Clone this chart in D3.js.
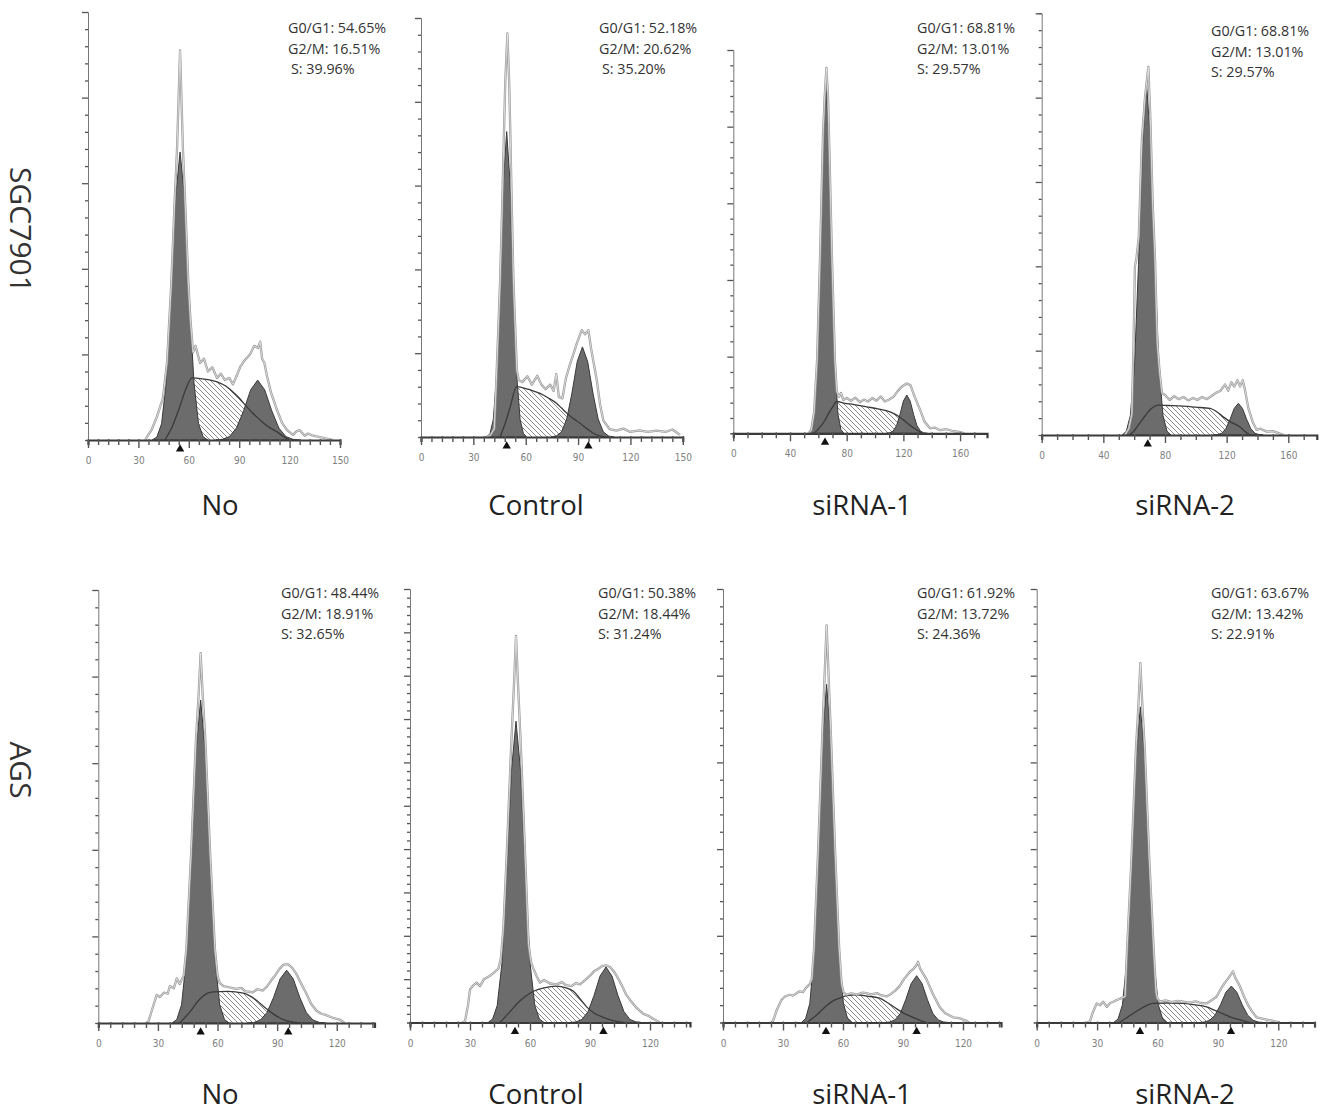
<!DOCTYPE html>
<html><head><meta charset="utf-8">
<script src="https://cdn.jsdelivr.net/npm/d3@7"></script>
<style>html,body{margin:0;padding:0;background:#fff;} svg{display:block;}</style>
</head><body>
<svg id="chart" width="1321" height="1114"></svg>
<script>
// ---------------- DATA ----------------
const rowLabels = ["SGC7901", "AGS"];
const panelNames = ["No", "Control", "siRNA-1", "siRNA-2", "No", "Control", "siRNA-1", "siRNA-2"];
const statsG0G1 = ["54.65%", "52.18%", "68.81%", "68.81%", "48.44%", "50.38%", "61.92%", "63.67%"];
const statsG2M  = ["16.51%", "20.62%", "13.01%", "13.01%", "18.91%", "18.44%", "13.72%", "13.42%"];
const statsS    = ["39.96%", "35.20%", "29.57%", "29.57%", "32.65%", "31.24%", "24.36%", "22.91%"];

// channel axis
const xMax = [150, 150, 179, 178.5, 139, 140, 139, 138];
const xTickLabels = [
  [0, 30, 60, 90, 120, 150], [0, 30, 60, 90, 120, 150],
  [0, 40, 80, 120, 160], [0, 40, 80, 120, 160],
  [0, 30, 60, 90, 120], [0, 30, 60, 90, 120], [0, 30, 60, 90, 120], [0, 30, 60, 90, 120]
];
const xMinorStep = [6, 6, 10, 10, 6, 6, 6, 6];
const yMinorStep = [4, 4, 4, 4, 4, 2, 4, 4];

// G0/G1 fitted peak (channel, % of axis height)
const g1Curves = [
  [[38.2,0],[41,0.7],[43.8,3.8],[46.5,13.3],[49.3,32.8],[52,56.2],[54.8,67.3],[57.6,56.2],[60.3,32.8],[63.1,13.3],[65.8,3.8],[68.6,0.7],[71.4,0]],
  [[37.6,0],[39.5,0.8],[41.4,4.1],[43.3,14.4],[45.3,35.5],[47.2,60.9],[49.1,72.9],[51,60.9],[52.9,35.5],[54.9,14.4],[56.8,4.1],[58.7,0.8],[60.6,0]],
  [[52.8,0],[54.9,1],[57,5.1],[59.1,18.1],[61.2,44.5],[63.3,76.3],[65.4,91.4],[67.5,76.3],[69.6,44.5],[71.7,18.1],[73.8,5.1],[75.9,1],[78,0]],
  [[52.3,0],[54.9,0.9],[57.5,4.6],[60.2,16.4],[62.8,40.4],[65.5,69.3],[68.1,83],[70.7,69.3],[73.4,40.4],[76,16.4],[78.7,4.6],[81.3,0.9],[83.9,0]],
  [[37.1,0],[39.5,0.8],[41.9,4.2],[44.3,14.8],[46.7,36.3],[49.1,62.3],[51.5,74.6],[53.9,62.3],[56.3,36.3],[58.7,14.8],[61.1,4.2],[63.5,0.8],[65.9,0]],
  [[39,0],[41.3,0.8],[43.6,3.9],[46,13.8],[48.3,33.8],[50.7,58],[53,69.5],[55.3,58],[57.7,33.8],[60,13.8],[62.4,3.9],[64.7,0.8],[67,0]],
  [[39.2,0],[41.3,0.9],[43.4,4.4],[45.5,15.4],[47.6,38],[49.7,65.1],[51.8,78],[53.9,65.1],[56,38],[58.1,15.4],[60.2,4.4],[62.3,0.9],[64.4,0]],
  [[38.2,0],[40.4,0.8],[42.6,4.1],[44.8,14.4],[47.1,35.5],[49.3,60.8],[51.5,72.8],[53.7,60.8],[55.9,35.5],[58.2,14.4],[60.4,4.1],[62.6,0.8],[64.8,0]]
];

// G2/M fitted peak
const g2Curves = [
  [[76,0],[80,0.15],[84.2,0.8],[88.4,2.8],[92.6,6.8],[96.8,11.7],[101,14],[105.2,11.7],[109.4,6.8],[113.6,2.8],[117.8,0.8],[122,0.15],[126,0]],
  [[74.5,0],[77.5,0.24],[80.5,1.2],[83.5,4.3],[86.5,10.5],[89.5,18],[92.5,21.5],[95.5,18],[98.5,10.5],[101.5,4.3],[104.5,1.2],[107.5,0.24],[110.5,0]],
  [[108,0],[110.4,0.1],[112.8,0.6],[115.2,2],[117.6,4.9],[120,8.4],[122.4,10],[124.8,8.4],[127.2,4.9],[129.6,2],[132,0.6],[134.4,0.1],[136.8,0]],
  [[111.4,0],[114.1,0.1],[116.8,0.4],[119.5,1.5],[122.2,3.7],[124.9,6.3],[127.6,7.5],[130.3,6.3],[133,3.7],[135.7,1.5],[138.4,0.4],[141.1,0.1],[143.8,0]],
  [[75,0],[78.3,0.13],[81.6,0.7],[84.9,2.4],[88.2,5.9],[91.5,10.2],[94.8,12.2],[98.1,10.2],[101.4,5.9],[104.7,2.4],[108,0.7],[111.3,0.13],[114.6,0]],
  [[80,0],[83,0.14],[86,0.7],[89,2.5],[92,6.2],[95,10.7],[98,12.8],[101,10.7],[104,6.2],[107,2.5],[110,0.7],[113,0.14],[116,0]],
  [[80.6,0],[83.3,0.12],[86,0.6],[88.7,2.1],[91.4,5.3],[94.1,9],[96.8,10.8],[99.5,9],[102.2,5.3],[104.9,2.1],[107.6,0.6],[110.3,0.12],[113,0]],
  [[80.5,0],[83.2,0.1],[85.9,0.5],[88.6,1.7],[91.3,4.1],[94,7],[96.7,8.4],[99.4,7],[102.1,4.1],[104.8,1.7],[107.5,0.5],[110.2,0.1],[112.9,0]]
];

// S-phase fitted curve
const sCurves = [
  [[45.8,0],[50,3],[54.8,8],[58.3,12],[61.9,14.5],[68,14.3],[76.8,13.6],[82,12.6],[86.3,11.2],[90,9.8],[93.5,8.2],[98,6.3],[102.4,4.7],[107,3.2],[112.5,1.9],[116,0.9],[120,0]],
  [[45.3,0],[48,3],[51,7],[54.8,12],[58,11.8],[63,11.2],[68.2,10.4],[73,9.3],[77.8,8],[80.5,6.9],[83.5,5.7],[87,4.5],[91.1,3.3],[95,2],[98.7,0.9],[105,0]],
  [[56.5,0],[59,0.7],[62,2],[65,3.6],[67,5],[70,6.8],[73,8.3],[78,7.9],[85,7.5],[94.1,6.9],[102,6.4],[110.6,5.6],[115,4.8],[120,3.5],[125,2],[129.4,0.9],[133,0]],
  [[57,0],[60,1],[63,2.5],[67,4.5],[71,6.2],[75.7,7.1],[82,7],[90,6.9],[100,6.6],[109.2,6.3],[114,5.4],[117.8,4.3],[123,3],[128.7,1.9],[132,0.8],[135,0]],
  [[41,0],[46,2.5],[51,5.5],[55,6.9],[57.9,7.2],[65,7.3],[73,6.9],[76.5,6.2],[79.7,5.2],[84,3.5],[88,2.1],[93,0.8],[98,0.2],[103,0]],
  [[45,0],[50,2.5],[55,5],[58.5,6.3],[61.7,7.2],[67,8],[73.3,8.4],[78,8],[81.7,7.2],[85,5.5],[88.3,3.6],[92,2.2],[96.7,1.2],[101,0.5],[106.7,0]],
  [[42,0],[47,1.8],[52,4],[55,5],[58.3,5.6],[62,6.2],[66.7,6.4],[72,6.1],[78.3,5.6],[82.5,4.5],[86.7,3.2],[91,2],[95,1.2],[98.5,0.5],[101.7,0]],
  [[41,0],[46,1.5],[51,3],[54.5,3.9],[57.9,4.4],[65,4.5],[72.8,4.4],[78,4.1],[84.4,3.6],[88.5,2.8],[92.7,2],[97,1.1],[102.6,0.4],[106,0]]
];

// measured DNA histogram outline
const rawCurves = [
  [[34,0],[35.1,0.7],[38,2.5],[41,5.4],[44.6,9.8],[47,18],[49.5,36],[51.5,55],[53,68],[54.8,91],[56.5,68],[58,54],[59.8,36],[61,28],[62.5,20.5],[64,22],[66.7,18],[69,19],[71.4,16],[74,17],[76.8,14.5],[79,15.5],[81.5,14],[84,14.5],[86.3,13],[88.5,15],[90.5,17],[93,18.5],[96.4,20],[99,22],[101.2,21.5],[102.5,23],[103.6,19],[105,18],[106.5,15],[109,11],[112.5,7],[115.5,4],[118.5,2.3],[122,1.2],[124,2],[126,2.3],[129,1],[131,1.5],[134,1],[140,0.5],[146,0]],
  [[37,0],[39.5,0.3],[42,2],[43.3,15],[45.3,37],[46.5,55],[47.5,72],[48.3,85],[49.5,96.3],[50.5,85],[51.2,72],[52,55],[53,37],[54.9,16],[56,13.6],[58,13.1],[61,14.5],[63.5,12.5],[66.6,14.6],[69,12.5],[71.4,11.4],[74,12.5],[76,11],[77.5,15],[79,9.5],[81,9.2],[83,14],[85.4,17.4],[87.5,20],[89.2,22.3],[92.1,25.5],[94,24.5],[95.9,25.5],[97.5,21],[100.7,13.6],[102.5,8],[104.5,3.9],[108,1.9],[112,1.5],[116,2],[120,1.2],[125,1.6],[130,1.2],[135,1.5],[140,1.2],[144,1.8],[148.4,0.5]],
  [[53,0],[55,0.8],[57,5.5],[59.1,19],[61.2,46],[63.3,78],[64.5,88],[65.7,95.3],[66.8,88],[67.5,78],[69.6,46],[71.7,19],[73,11],[74.5,9.5],[76,10.5],[77.6,8.7],[80,9.2],[83,8.5],[86,9.3],[89.4,8.1],[92,8.8],[95,8.3],[98,9.2],[101,8.5],[104,9.6],[107,8.3],[110,8.8],[113,9.5],[116,11],[119,12.2],[122.4,13],[125,12.5],[128,9.5],[131.8,6.1],[135,3],[138.8,1.3],[142,1.5],[146,0.8],[150,1.1],[155,0.6],[160,0.3],[163,0]],
  [[54,0],[56.5,1.5],[58.5,5],[59.5,20],[60.5,40],[61.5,42],[63,47],[65,70],[67,80],[69.2,87.3],[70.5,75],[72,55],[73.5,42],[75,22],[76.5,15],[78,10],[80,9.5],[83,8.3],[86,9.2],[89,8.5],[92,9],[95,8.2],[98,8.8],[101,8.3],[104,9],[107,8.5],[110,9.2],[113,10],[116,10.5],[119,12],[121,10.5],[123,12.5],[125,11.5],[127,13],[128.7,11.5],[130.5,13],[132,10.5],[134,6.5],[137,3],[139.5,1.2],[142,1.5],[146,0.8],[150,0.9],[154,0.4],[157,0]],
  [[24,0],[25.2,0.3],[27,3],[29.4,6.5],[31,6],[33,7],[35,6.8],[36,8.5],[38,8],[39.5,10.3],[41,9],[43,11],[44.3,17],[46.7,39],[49.1,65],[50.5,76],[51.5,85.4],[52.5,76],[53.9,65],[56.3,39],[58.7,17],[60,11],[61.1,9.2],[63,8.5],[66,8.2],[69.5,7.9],[72,8.1],[74,7.3],[77.8,7.1],[80,7.8],[82.8,7.5],[85,8.5],[87,9.8],[89,11],[91.2,12.5],[93,13.4],[95.4,13.6],[97.5,12.8],[99.6,11.4],[102,9.2],[104.7,6.8],[107,4.5],[109.7,2.9],[112,2.2],[114.7,1.8],[118,1.2],[121.4,0.8],[124,0]],
  [[26,0],[27.5,0.3],[29,4],[30,7.6],[31.5,8.5],[33.3,9.2],[35,8.4],[37,10],[40,10.8],[42,11.5],[44.2,12.4],[45.5,15],[46.7,22],[48.3,38],[50.7,65],[52,78],[53,89.2],[54,78],[55.3,65],[57.7,37],[59.3,18],[60.5,14],[61.7,12.4],[63.5,10.5],[65,9.2],[67,9.8],[70,9],[73.3,8.8],[76,9.3],[78,8.6],[80.8,8.4],[83,9.1],[85,8.8],[87.5,9.8],[90,10.8],[92,11.8],[94.2,12.4],[96,13],[98,13.2],[100,12.8],[101.5,12],[103.3,10.8],[106,8.5],[108,6.5],[110,5.2],[113,3.5],[116.7,2],[119,1.6],[121.7,0.8],[125,0]],
  [[24,0],[25,0.3],[27,3],[29.2,5.2],[31,6],[33.3,6.4],[35,6.2],[38.3,7.2],[40,7],[41.5,8],[43.3,8.8],[44.4,10],[45.5,17],[47.6,40],[49.7,67],[50.8,80],[51.8,91.6],[52.8,80],[53.9,67],[56,40],[58.1,17],[59.3,9],[60.2,7],[61.7,6.4],[64,6.7],[67,6.5],[70,6.9],[71.7,6.8],[74,6.5],[77,6.8],[79,6.3],[81.7,6],[84,6.6],[86,7.3],[88.3,8.4],[90.5,10],[93.3,11.6],[95.5,12.5],[96.7,13.2],[97.5,14],[98.5,12.5],[101.7,10],[105,6.5],[108.3,3.6],[111,2.2],[115,1.2],[118,1],[121.7,0.4],[123,0]],
  [[25,0],[26.5,0.3],[28,2.5],[29.8,4.4],[31.5,4],[33,4.8],[34.8,3.6],[36.5,4.5],[38,4.8],[39.7,5.2],[41.5,5.5],[43.9,6],[44.8,16],[47.1,38],[49.3,63],[50.4,72],[51.5,82.9],[52.6,72],[53.7,63],[55.9,38],[58.2,16],[59.3,7],[60,5.5],[61.3,4.8],[64,5.1],[67,4.7],[70,5],[72.8,4.8],[76,4.6],[79,4.9],[81.5,4.5],[84.4,4.4],[86.5,5],[89.4,6],[91.5,7.8],[93.5,9.2],[95.5,10.4],[96.7,11.2],[97.5,11.8],[98.5,10.5],[100.9,8.4],[103,6],[105,4],[107,2.5],[109.2,1.2],[112,0.9],[115,0.6],[117.5,0.4],[120.8,0]]
];

// peak position markers (channel)
const markers = [[54.8], [49.1, 95.9], [64.7], [68.8], [51.5, 95.6], [52.5, 96.7], [51.5, 96.8], [51.3, 96.5]];

// ---------------- LAYOUT ----------------
const layout = [
  {x0: 88,     x1: 340,    base: 440,    top: 12,   tx: 288,  ty: 33,  lx: 220,  ly: 505,  sIndent: 3},
  {x0: 421,    x1: 682.8,  base: 437,    top: 18,   tx: 599,  ty: 33,  lx: 536,  ly: 505,  sIndent: 3},
  {x0: 733.3,  x1: 987,    base: 433.3,  top: 50,   tx: 917,  ty: 33,  lx: 862,  ly: 505,  sIndent: 0},
  {x0: 1041.7, x1: 1316.8, base: 435,    top: 13.3, tx: 1211, ty: 36,  lx: 1185, ly: 505,  sIndent: 0},
  {x0: 98.3,   x1: 374.5,  base: 1023,   top: 590,  tx: 281,  ty: 598, lx: 220,  ly: 1094, sIndent: 0},
  {x0: 410,    x1: 690,    base: 1022.5, top: 589,  tx: 598,  ty: 598, lx: 536,  ly: 1094, sIndent: 0},
  {x0: 723,    x1: 1001,   base: 1022.5, top: 589,  tx: 917,  ty: 598, lx: 862,  ly: 1094, sIndent: 0},
  {x0: 1036.7, x1: 1314.5, base: 1022.5, top: 589,  tx: 1211, ty: 598, lx: 1185, ly: 1094, sIndent: 0}
];
const rowLabelPos = [[20, 230], [20, 770]];

// ---------------- DRAW ----------------
const svg = d3.select("#chart");
svg.append("rect").attr("width", 1321).attr("height", 1114).attr("fill", "#fff");
const defs = svg.append("defs");
const pat = defs.append("pattern").attr("id", "hatch")
  .attr("patternUnits", "userSpaceOnUse").attr("width", 5).attr("height", 5);
pat.append("rect").attr("width", 5).attr("height", 5).attr("fill", "#fff");
pat.append("path").attr("d", "M-1,-1L6,6M-1,4L1,6M4,-1L6,1")
  .attr("stroke", "#8c8c8c").attr("stroke-width", 1);

const FILL = "#6c6c6c", EDGE = "#3a3a3a";

layout.forEach((L, i) => {
  const x = d3.scaleLinear().domain([0, xMax[i]]).range([L.x0, L.x1]);
  const y = d3.scaleLinear().domain([0, 100]).range([L.base, L.top]);
  const g = svg.append("g").attr("class", "panel");

  // y axis
  const yTicks = d3.range(0, 100.0001, yMinorStep[i]);
  const yAxis = d3.axisLeft(y).tickValues(yTicks).tickSize(3).tickFormat("");
  const ya = g.append("g").attr("transform", `translate(${L.x0},0)`).call(yAxis);
  ya.select(".domain").attr("stroke", "#777").attr("stroke-width", 1);
  ya.selectAll(".tick line").attr("stroke", "#555").attr("stroke-width", 1.3)
    .attr("x2", d => (Math.round(d / yMinorStep[i]) % 5 === 0 && d > 0) ? -6 : -3);

  const area = d3.area().x(d => x(d[0])).y0(y(0)).y1(d => y(d[1]));
  const line = d3.line().x(d => x(d[0])).y(d => y(d[1]));

  // S phase (hatched)
  g.append("path").datum(sCurves[i]).attr("d", area.curve(d3.curveMonotoneX))
    .attr("fill", "url(#hatch)").attr("stroke", "none");
  // G1, G2 fits
  [g1Curves[i], g2Curves[i]].forEach(c => {
    g.append("path").datum(c).attr("d", area.curve(d3.curveLinear))
      .attr("fill", FILL).attr("stroke", EDGE).attr("stroke-width", 1).attr("stroke-linejoin", "round");
  });
  // S line
  g.append("path").datum(sCurves[i]).attr("d", line.curve(d3.curveMonotoneX))
    .attr("fill", "none").attr("stroke", EDGE).attr("stroke-width", 1.3);
  // raw histogram outline (fuzzy gray double line)
  const rawLine = line.curve(d3.curveLinear);
  g.append("path").datum(rawCurves[i]).attr("d", rawLine)
    .attr("fill", "none").attr("stroke", "#9a9a9a").attr("stroke-width", 2.3).attr("stroke-linejoin", "round");
  g.append("path").datum(rawCurves[i]).attr("d", rawLine)
    .attr("fill", "none").attr("stroke", "#f2f2f2").attr("stroke-width", 0.7).attr("stroke-linejoin", "round");

  // x axis
  const xTicks = d3.range(0, xMax[i] + 0.001, xMinorStep[i]);
  const labelSet = new Set(xTickLabels[i]);
  const xAxis = d3.axisBottom(x).tickValues(xTicks).tickSize(5)
    .tickFormat(d => labelSet.has(d) ? String(d) : "");
  const xa = g.append("g").attr("transform", `translate(0,${L.base})`).call(xAxis);
  xa.select(".domain").attr("stroke", "#3a3a3a").attr("stroke-width", 2.2);
  xa.selectAll(".tick line").attr("stroke", "#555").attr("stroke-width", 1.4)
    .attr("y1", -1).attr("y2", d => labelSet.has(d) ? 8 : 5);
  xa.selectAll(".tick text").attr("y", 21).attr("dy", "0.32em")
    .attr("font-family", "'DejaVu Sans Condensed','Liberation Sans Narrow',sans-serif")
    .attr("font-size", 10).attr("fill", "#808080");

  // peak markers
  g.selectAll(".mk").data(markers[i]).enter().append("path")
    .attr("d", d3.symbol(d3.symbolTriangle, 30))
    .attr("transform", d => `translate(${x(d)},${L.base + 9})`)
    .attr("fill", "#111");

  // stats
  const st = g.append("g").attr("font-family", "'Open Sans',sans-serif").attr("font-size", 14.3).attr("fill", "#333");
  st.append("text").attr("x", L.tx).attr("y", L.ty).text(`G0/G1: ${statsG0G1[i]}`);
  st.append("text").attr("x", L.tx).attr("y", L.ty + 20.5).text(`G2/M: ${statsG2M[i]}`);
  st.append("text").attr("x", L.tx + L.sIndent).attr("y", L.ty + 41).text(`S: ${statsS[i]}`);

  // panel label
  g.append("text").attr("x", L.lx).attr("y", L.ly).attr("dy", "0.35em")
    .attr("text-anchor", "middle").attr("font-family", "'Open Sans',sans-serif")
    .attr("font-size", 27.5).attr("fill", "#222").text(panelNames[i]);
});

rowLabels.forEach((t, r) => {
  svg.append("text")
    .attr("transform", `translate(${rowLabelPos[r][0]},${rowLabelPos[r][1]}) rotate(90)`)
    .attr("text-anchor", "middle").attr("dy", "0.35em")
    .attr("font-family", "'Open Sans',sans-serif").attr("font-size", 30).attr("fill", "#333")
    .text(t);
});
</script>
</body></html>
